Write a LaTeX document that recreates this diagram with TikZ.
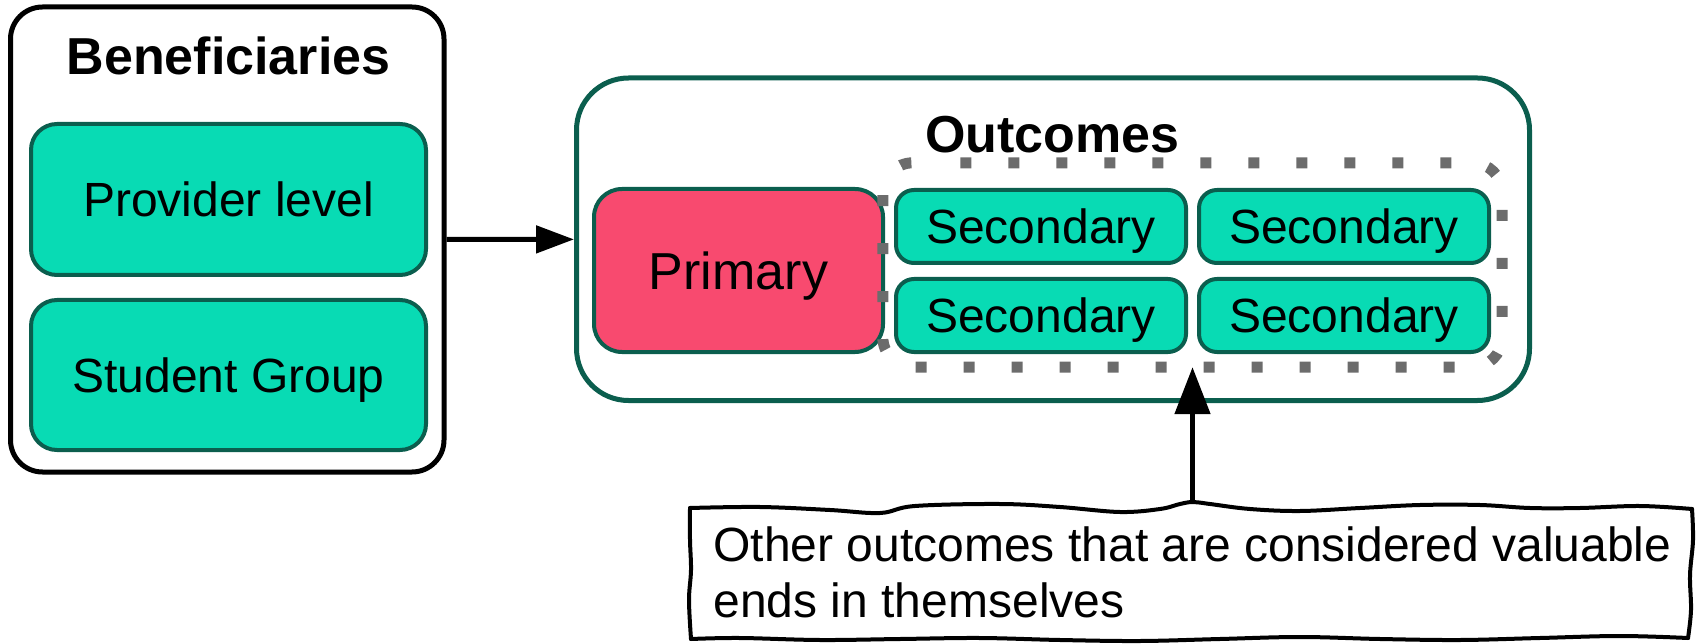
\documentclass[tikz,border=0pt]{standalone}
\usepackage{fontspec}
\setmainfont{Liberation Sans}
\usetikzlibrary{arrows.meta,calc}
\definecolor{tealfill}{RGB}{8,219,180}
\definecolor{boxedge}{RGB}{11,94,78}
\definecolor{pinkfill}{RGB}{248,74,111}
\definecolor{dotgray}{RGB}{108,108,108}
\begin{document}
\begin{tikzpicture}[x=1pt,y=-1pt,
  group/.style={draw=black, line width=5pt, rounded corners=32pt, inner sep=0pt},
  outgroup/.style={draw=boxedge, line width=5pt, rounded corners=52pt, inner sep=0pt},
  item/.style={draw=boxedge, fill=tealfill, line width=4pt, rounded corners=26pt,
    inner sep=0pt, font=\fontsize{48}{56}\selectfont, text height=34.4pt, text depth=0pt},
  secbox/.style={item, rounded corners=18pt, minimum width=290pt, minimum height=73pt},
  primbox/.style={item, fill=pinkfill, rounded corners=28pt,
    font=\fontsize{52}{60}\selectfont, text height=37.2pt},
  title/.style={font=\fontsize{52}{60}\selectfont\bfseries, inner sep=0pt, anchor=base},
  link/.style={line width=5pt, -{Triangle[length=38pt,width=27pt]}},
  uplink/.style={line width=5pt, -{Triangle[length=47pt,width=35pt]}},
  dotline/.style={draw=dotgray, line width=11pt, dash pattern=on 11pt off 37pt,
    dash phase=37.5pt, rounded corners=30pt},
  notewave/.style={draw=black, line width=4pt, line cap=round, line join=round}
]
\useasboundingbox (0,0) rectangle (1697,644);

% beneficiaries group
\node[group, minimum width=433.5pt, minimum height=465pt] (ben) at (227.25,239.5) {};
\node[title] (bentitle) at (228.5,75) {Beneficiaries};
\node[item, minimum width=395pt, minimum height=151pt] (prov) at (228.5,199.5) {Provider level};
\node[item, minimum width=395pt, minimum height=150pt] (stud) at (228.5,375) {Student Group};

% outcomes group
\node[outgroup, minimum width=953pt, minimum height=322.5pt] (out) at (1053,239.25) {};
\node[title] (outtitle) at (1052.5,153) {Outcomes};
\node[primbox, minimum width=289pt, minimum height=163pt] (prim) at (738.5,270.5) {Primary};
\node[secbox] (s11) at (1041,226.5) {Secondary};
\node[secbox] (s12) at (1344,226.5) {Secondary};
\node[secbox] (s21) at (1041,315.5) {Secondary};
\node[secbox] (s22) at (1344,315.5) {Secondary};

% dotted frame round the secondary outcomes
\node[minimum width=619pt, minimum height=204pt, inner sep=0pt] (dots) at (1192.5,265) {};
\draw[dotline] ($(dots.north west)+(67,0)$) -- (dots.north east) -- (dots.south east)
  -- (dots.south west) -- (dots.north west) -- ($(dots.north west)+(62,0)$);

% note
\node[minimum width=1002pt, minimum height=136pt, align=left,
  inner sep=0pt, font=\fontsize{48}{56}\selectfont] (note) at (1192.5,572)
  {Other outcomes that are considered valuable\\ends in themselves\hfill\null};
\draw[notewave] plot[smooth, tension=0.6] coordinates {(690,508) (760,507) (830,510) (880,513)
  (915,506) (1000,504) (1060,507) (1120,512) (1160,509) (1180,504) (1193,502) (1210,504)
  (1250,509) (1300,511) (1360,508) (1420,505) (1480,505) (1530,508) (1580,508) (1640,506) (1692,509)};
\draw[notewave] plot[smooth, tension=0.6] coordinates {(1692,509) (1693,540) (1690,575) (1691,610) (1688,638)};
\draw[notewave] plot[smooth, tension=0.6] coordinates {(1688,638) (1620,636) (1540,638) (1460,640)
  (1380,639) (1300,637) (1220,639) (1140,641) (1060,640) (980,638) (900,639) (820,640) (740,638) (691,639)};
\draw[notewave] plot[smooth, tension=0.6] coordinates {(691,639) (689,600) (691,570) (690,540) (690,508)};

% connectors
\draw[link] (ben) -- (out);
\draw[uplink] (note.north) -- (dots.south);
\end{tikzpicture}
\end{document}
